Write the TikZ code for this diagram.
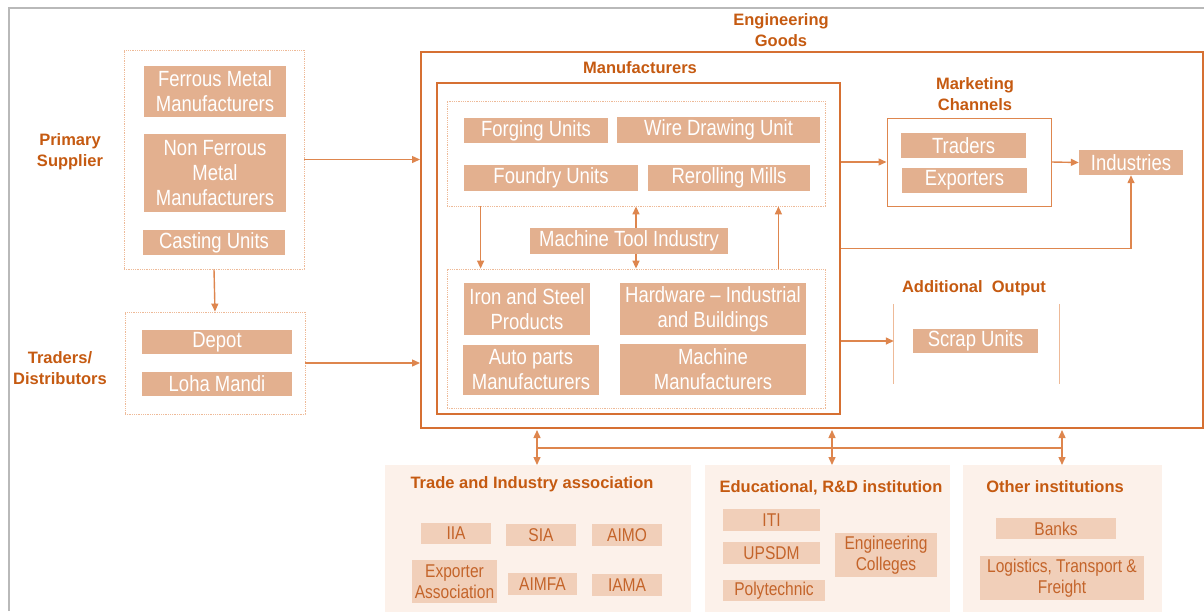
\documentclass[tikz,border=0pt]{standalone}
\usepackage{fontspec}
\setmainfont{Liberation Sans}
\newfontfamily\boxfont[FakeStretch=0.84,Ligatures=TeX]{Liberation Sans}
\usetikzlibrary{arrows.meta,positioning}
\definecolor{labelc}{RGB}{197,90,17}
\definecolor{linec}{RGB}{222,134,78}
\definecolor{framec}{RGB}{214,112,50}
\definecolor{boxfill}{RGB}{227,176,143}
\definecolor{panelfill}{RGB}{252,241,234}
\definecolor{subfill}{RGB}{241,207,185}
\definecolor{subtext}{RGB}{196,100,42}
\definecolor{dotc}{RGB}{238,186,152}
\definecolor{grayc}{RGB}{185,185,185}
\tikzstyle{unit}=[fill=boxfill, text=white, font=\boxfont\fontsize{22}{25}\selectfont, align=center, inner sep=0pt]
\newcommand{\unit}{\node[unit]}
\tikzstyle{member}=[fill=subfill, text=subtext, font=\boxfont\fontsize{18.5}{21.5}\selectfont, align=center, inner sep=0pt]
\newcommand{\member}{\node[member]}
\tikzstyle{heading}=[text=labelc, font=\bfseries\fontsize{16.5}{21}\selectfont, align=center, inner sep=0pt]
\tikzstyle{group}=[draw=dotc, densely dotted, line width=0.8pt, inner sep=0pt]
\tikzstyle{panel}=[fill=panelfill, inner sep=0pt]
\tikzstyle{arr}=[draw=linec, line width=1.4pt, -{Triangle[length=8pt,width=7pt]}]
\tikzstyle{twoway}=[draw=linec, line width=1.4pt, {Triangle[length=8pt,width=7pt]}-{Triangle[length=8pt,width=7pt]}]

\begin{document}
\begin{tikzpicture}[x=1pt,y=-1pt]
\useasboundingbox (0,0) rectangle (1204,611);
\draw[grayc, line width=2pt] (9,611) -- (9,8) -- (1204,8);

% suppliers
\node[heading] (primlbl) at (70,152) {Primary\\Supplier};
\node[heading] (trdlbl) at (60,368) {Traders/\\Distributors};
\node[group, minimum width=180pt, minimum height=219pt] (prim) at (214,159.5) {};
\unit[minimum width=142pt, minimum height=51pt] (ferrous) at (215,91.5) {Ferrous Metal\\Manufacturers};
\unit[minimum width=142pt, minimum height=78pt] (nonferrous) at (215,173) {Non Ferrous\\Metal\\Manufacturers};
\unit[minimum width=142pt, minimum height=25pt] (casting) at (214,242.5) {Casting Units};
\node[group, minimum width=180pt, minimum height=102pt] (trd) at (215,363) {};
\unit[minimum width=150pt, minimum height=24pt] (depot) at (217,342) {Depot};
\unit[minimum width=150pt, minimum height=24pt] (loha) at (217,384) {Loha Mandi};

% engineering goods
\node[heading] (englbl) at (781,30) {Engineering\\Goods};
\node[draw=framec, line width=2pt, minimum width=782pt, minimum height=376pt] (eng) at (812,240) {};
\node[heading] (manulbl) at (640,68) {Manufacturers};
\node[draw=framec, line width=2pt, minimum width=403pt, minimum height=331pt] (manu) at (638.5,248.5) {};
\node[group, minimum width=378pt, minimum height=105pt] (up) at (636,153.5) {};
\unit[minimum width=144pt, minimum height=25pt] (forging) at (536,130.5) {Forging Units};
\unit[minimum width=203pt, minimum height=26pt] (wire) at (718.5,130) {Wire Drawing Unit};
\unit[minimum width=174pt, minimum height=26pt] (foundry) at (551,178) {Foundry Units};
\unit[minimum width=162pt, minimum height=26pt] (rerolling) at (729,178) {Rerolling Mills};
\unit[minimum width=198pt, minimum height=26pt] (mti) at (629,241) {Machine Tool Industry};
\node[group, minimum width=378pt, minimum height=139pt] (low) at (636,338.5) {};
\unit[minimum width=126pt, minimum height=52pt] (iron) at (527,309) {Iron and Steel\\Products};
\unit[minimum width=186pt, minimum height=52pt] (hardware) at (713,309) {Hardware – Industrial\\and Buildings};
\unit[minimum width=136pt, minimum height=50pt] (auto) at (531,370) {Auto parts\\Manufacturers};
\unit[minimum width=186pt, minimum height=51pt] (machine) at (713,369.5) {Machine\\Manufacturers};

% outputs
\node[heading] (mktlbl) at (975,94) {Marketing\\Channels};
\node[draw=linec, line width=1pt, minimum width=164pt, minimum height=88pt] (mkt) at (969,162) {};
\unit[minimum width=125pt, minimum height=25pt] (traders) at (963.5,145.5) {Traders};
\unit[minimum width=125pt, minimum height=25pt] (exporters) at (964.5,180.5) {Exporters};
\unit[minimum width=104pt, minimum height=25pt] (ind) at (1131,162.5) {Industries};
\node[heading] (addlbl) at (974,288) {Additional\ \ Output};
\node[minimum width=165pt, minimum height=80pt, inner sep=0pt] (addout) at (976.5,344) {};
\draw[dotc, line width=1pt] (addout.north west) -- (addout.south west) (addout.north east) -- (addout.south east);
\unit[minimum width=125pt, minimum height=24pt] (scrap) at (975.5,341) {Scrap Units};

% institutions
\node[panel, minimum width=306pt, minimum height=150pt] (trade) at (538,540) {};
\node[panel, minimum width=245pt, minimum height=150pt] (edu) at (827.5,540) {};
\node[panel, minimum width=199pt, minimum height=150pt] (other) at (1062.5,540) {};
\node[heading] (tradelbl) at (532,484) {Trade and Industry association};
\node[heading] (edulbl) at (831,488) {Educational,\ R\&D institution};
\node[heading] (otherlbl) at (1055,487) {Other institutions};
\member[minimum width=70pt, minimum height=21pt] (iia) at (456,533.5) {IIA};
\member[minimum width=70pt, minimum height=22pt] (sia) at (541,535) {SIA};
\member[minimum width=70pt, minimum height=22pt] (aimo) at (627,535) {AIMO};
\member[minimum width=85pt, minimum height=43pt] (expa) at (454.5,581.5) {Exporter\\Association};
\member[minimum width=69pt, minimum height=22pt] (aimfa) at (542.5,584) {AIMFA};
\member[minimum width=70pt, minimum height=22pt] (iama) at (627,585) {IAMA};
\member[minimum width=97pt, minimum height=22pt] (iti) at (771.5,520) {ITI};
\member[minimum width=97pt, minimum height=22pt] (upsdm) at (771.5,553) {UPSDM};
\member[minimum width=102pt, minimum height=21pt] (poly) at (774,590.5) {Polytechnic};
\member[minimum width=102pt, minimum height=44pt] (engcol) at (886,555) {Engineering\\Colleges};
\member[minimum width=120pt, minimum height=21pt] (banks) at (1056,528.5) {Banks};
\member[minimum width=164pt, minimum height=44pt] (logis) at (1062,578) {Logistics, Transport \&\\Freight};

% connectors
\draw[arr] (prim.south) -- (trd.north);
\draw[arr] (prim.east) -- (eng.west |- prim.east);
\draw[arr] (trd.east) -- (eng.west |- trd.east);
\draw[arr] ([xshift=34pt]up.south west) -- ([xshift=34pt]low.north west);
\draw[arr] (mti.north -| up.south) -- (up.south);
\draw[arr] (mti.south -| low.north) -- (low.north);
\draw[arr] ([xshift=-47pt]low.north east) -- ([xshift=-47pt]up.south east);
\draw[arr] (manu.east |- mkt.west) -- (mkt.west);
\draw[arr] (mkt.east) -- (ind.west);
\draw[arr] (manu.east) -- (manu.east -| ind.south) -- (ind.south);
\draw[arr] (manu.east |- scrap.west) -- (addout.west |- scrap.west);
\foreach \x in {537,832,1062}
	\draw[twoway] (\x,430) -- (\x,465);
\draw[linec, line width=1.4pt] (537,448) -- (1062,448);
\end{tikzpicture}
\end{document}
